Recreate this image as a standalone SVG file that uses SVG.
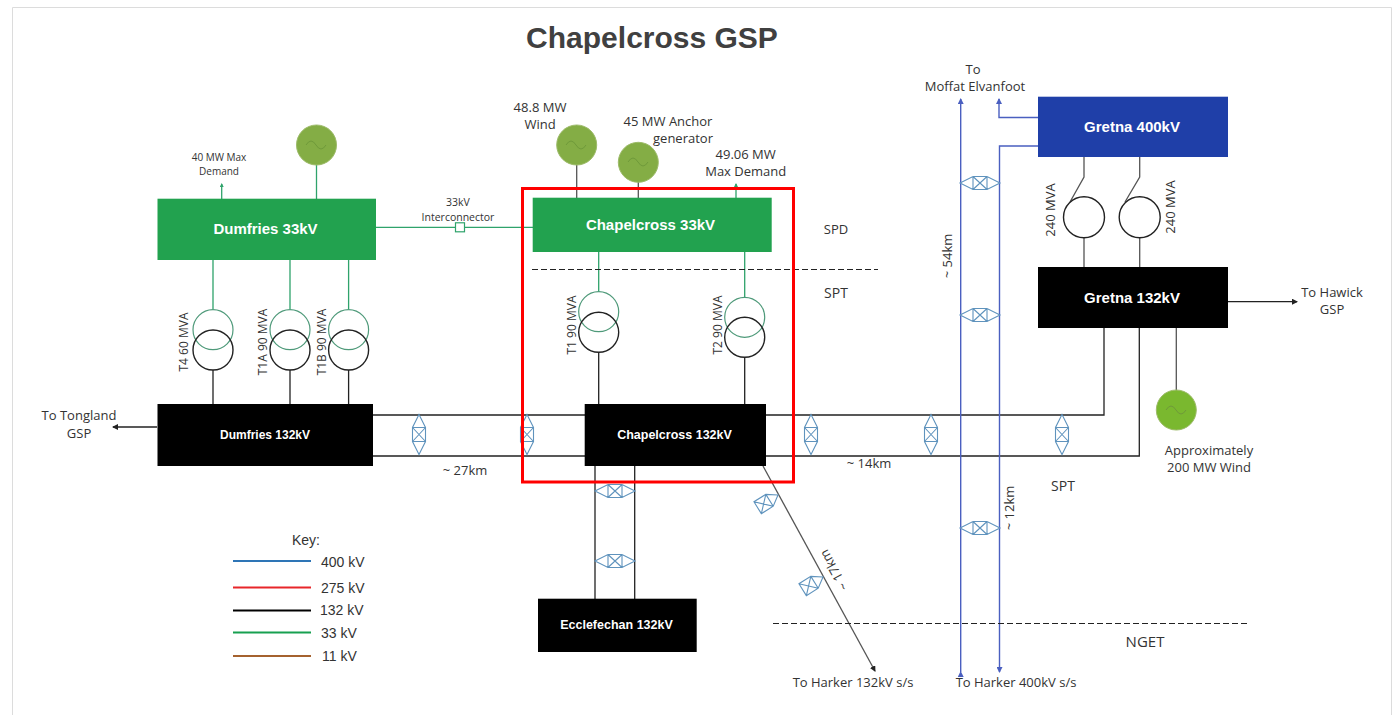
<svg xmlns="http://www.w3.org/2000/svg" width="1398" height="715" viewBox="0 0 1398 715">
<style>
.t{font-family:"Open Sans","Liberation Sans",sans-serif;font-size:13px;fill:#333;text-anchor:middle}
.s{font-size:10px}
.m{font-size:10.500px}
.r{font-size:12px}
.l{font-size:14px}
.k{font-family:"Liberation Sans",sans-serif;font-size:14px;fill:#333}
.b{font-family:"Liberation Sans",sans-serif;font-weight:bold;fill:#fff;text-anchor:middle;font-size:15px}
.b2{font-size:12.500px}
.g{stroke:#2fa36b;stroke-width:1.3;fill:none}
.n{stroke:#222;stroke-width:1.3;fill:none}
.o{stroke:#555;stroke-width:1.3;fill:none}
.h{stroke:#4a5fc0;stroke-width:1.4;fill:none}
.d{stroke:#222;stroke-width:1.1;stroke-dasharray:6 3;fill:none}
.cg{fill:none;stroke:#4f9a7a;stroke-width:1.2}
.cb{fill:none;stroke:#222;stroke-width:1.4}
.gen{stroke:#9dbb6a;stroke-width:1}
.w{fill:none;stroke:#6f9a3a;stroke-width:1}
.tw{fill:none;stroke:#5f93bd;stroke-width:1.1}
</style>
<defs>
<g id="tower"><path class="tw" d="M0-20L6.500-7V7L0 20L-6.500 7V-7ZM-6.500-7H6.500V7H-6.500ZM-6.500-7L6.500 7M6.500-7L-6.500 7"/></g>
<g id="half"><path class="tw" d="M0 0L-10-7H-24V7H-10ZM-10-7V7M-10-7L-24 7M-24-7L-10 7"/></g>
<marker id="a" markerWidth="6" markerHeight="6" refX="5" refY="3" orient="auto" markerUnits="userSpaceOnUse"><path d="M0 0L6 3L0 6Z" fill="#222"/></marker>
<marker id="ab" markerWidth="6" markerHeight="6" refX="5" refY="3" orient="auto" markerUnits="userSpaceOnUse"><path d="M0 0L6 3L0 6Z" fill="#4a5fc0"/></marker>
<marker id="ag" markerWidth="4" markerHeight="4" refX="3" refY="2" orient="auto" markerUnits="userSpaceOnUse"><path d="M0 0L4 2L0 4Z" fill="#2fa36b"/></marker>
</defs>
<rect width="1398" height="715" fill="#fff"/>
<path d="M12.500 715V7.500H1391.500V715" fill="none" stroke="#dcdcdc" stroke-width="1"/>
<text x="652" y="48" font-family="'Liberation Sans',sans-serif" font-weight="bold" font-size="30" fill="#404040" text-anchor="middle">Chapelcross GSP</text>

<g id="connectors">
<path class="g" d="M316.500 165V199"/>
<path class="g" d="M221.700 199V184" marker-end="url(#ag)"/>
<path class="g" d="M376 227.300H533M213 260V309M290 260V309M348.600 260V309"/>
<path class="n" d="M213 370V404M290 370V404M348.600 370V404"/>
<path class="n" d="M157 427H113" marker-end="url(#a)"/>
<path class="o" d="M576.700 165V198M638.300 182V198"/>
<path class="g" d="M736 198V184" marker-end="url(#ag)"/>
<path class="g" d="M598.700 252V291.500M744.700 252V297"/>
<path class="n" d="M598.700 352.500V404M744.700 357.500V404"/>
<path class="n" d="M373 415H585M373 456H585M766 415H1104V328M766 456H1139.300V328"/>
<path class="n" d="M595 466V599M634.700 466V599"/>
<path class="o" d="M763 466L875 671" marker-end="url(#a)"/>
<path class="h" d="M960.700 672V99" marker-start="url(#ab)" marker-end="url(#ab)"/>
<path class="h" d="M1038 117.500H999V99" marker-end="url(#ab)"/>
<path class="h" d="M1038 146H999.500V672" marker-end="url(#ab)"/>
<path class="o" d="M1084 157V177L1070 202M1139.700 157V177L1125 202M1084 238V267M1139.700 238V267"/>
<path class="n" d="M1228 301.700H1297" marker-end="url(#a)"/>
<path class="o" d="M1176.300 328V390"/>
</g>

<g id="dividers">
<path class="d" d="M532 269.500H878"/>
<path class="d" d="M773 623.500H1247"/>
</g>

<g id="towers">
<use href="#tower" x="419" y="434.500"/>
<use href="#tower" x="527" y="434.500"/>
<use href="#tower" x="811" y="434.500"/>
<use href="#tower" x="931" y="434.500"/>
<use href="#tower" x="1062" y="434.500"/>
<use href="#tower" transform="translate(615 491) rotate(90)"/>
<use href="#tower" transform="translate(615 561) rotate(90)"/>
<use href="#tower" transform="translate(980 183) rotate(90)"/>
<use href="#tower" transform="translate(980 315) rotate(90)"/>
<use href="#tower" transform="translate(980 528) rotate(90)"/>
<use href="#half" transform="translate(778 495) rotate(-32)"/>
<use href="#half" transform="translate(823 577) rotate(-32)"/>
</g>

<g id="interconnector-switch"><rect x="455.500" y="222.800" width="9" height="9" fill="#fff" stroke="#2fa36b" stroke-width="1.2"/></g>

<g id="box-dumfries-33"><rect x="157.500" y="198.700" width="218.500" height="61.300" fill="#22a24f"/><text class="b" x="265.500" y="234">Dumfries 33kV</text></g>
<g id="box-dumfries-132"><rect x="157.500" y="404" width="215.500" height="62" fill="#000"/><text class="b" style="font-size:12px" x="265" y="439">Dumfries 132kV</text></g>
<g id="box-chapelcross-33"><rect x="532.700" y="197.700" width="239" height="54.300" fill="#22a24f"/><text class="b" x="650.500" y="230">Chapelcross 33kV</text></g>
<g id="box-chapelcross-132"><rect x="584.700" y="404" width="181.300" height="62" fill="#000"/><text class="b b2" x="674.500" y="439">Chapelcross 132kV</text></g>
<g id="box-ecclefechan-132"><rect x="538" y="598.700" width="158.700" height="53.300" fill="#000"/><text class="b b2" x="616.500" y="629">Ecclefechan 132kV</text></g>
<g id="box-gretna-400"><rect x="1038" y="96.700" width="190" height="60.300" fill="#1f3fa8"/><text class="b" x="1132" y="132">Gretna 400kV</text></g>
<g id="box-gretna-132"><rect x="1038" y="267" width="190" height="61" fill="#000"/><text class="b" x="1132" y="302.500">Gretna 132kV</text></g>

<g id="gen-dumfries"><circle class="gen" cx="316.500" cy="145" r="20" fill="#84ad45"/><path class="w" d="M306 145q5-8 10 0t10 0"/></g>
<g id="gen-wind"><circle class="gen" cx="576.700" cy="145" r="20" fill="#84ad45"/><path class="w" d="M566 145q5-8 10 0t10 0"/></g>
<g id="gen-anchor"><circle class="gen" cx="638.300" cy="162.300" r="20" fill="#84ad45"/><path class="w" d="M628 162q5-8 10 0t10 0"/></g>
<g id="gen-gretna"><circle class="gen" cx="1176.300" cy="410" r="20" fill="#7ab82f"/><path class="w" d="M1166 410q5-8 10 0t10 0"/></g>

<g id="tx-t4"><circle class="cg" cx="213" cy="329.700" r="20"/><circle class="cb" cx="213" cy="350" r="20"/></g>
<g id="tx-t1a"><circle class="cg" cx="290" cy="329.700" r="20"/><circle class="cb" cx="290" cy="350" r="20"/></g>
<g id="tx-t1b"><circle class="cg" cx="348.600" cy="329.700" r="20"/><circle class="cb" cx="348.600" cy="350" r="20"/></g>
<g id="tx-t1"><circle class="cg" cx="598.700" cy="311.700" r="20"/><circle class="cb" cx="598.700" cy="332.300" r="20"/></g>
<g id="tx-t2"><circle class="cg" cx="744.700" cy="317.300" r="20"/><circle class="cb" cx="744.700" cy="337.300" r="20"/></g>
<g id="tx-gretna-1"><circle class="cb" cx="1084" cy="217.300" r="20.500"/></g>
<g id="tx-gretna-2"><circle class="cb" cx="1139.700" cy="217.300" r="20.500"/></g>

<g id="labels">
<text class="t s" x="219" y="161">40 MW Max</text><text class="t s" x="219" y="175">Demand</text>
<text class="t m" x="458" y="205.500">33kV</text><text class="t m" x="458" y="221">Interconnector</text>
<text class="t" x="540" y="111.500">48.8 MW</text><text class="t" x="540" y="128.500">Wind</text>
<text class="t" x="668" y="126">45 MW Anchor</text><text class="t" x="683" y="143">generator</text>
<text class="t" x="745.700" y="158.500">49.06 MW</text><text class="t" x="745.700" y="175.500">Max Demand</text>
<text class="t" x="836" y="234">SPD</text><text class="t l" x="836" y="298">SPT</text>
<text class="t" x="973" y="74">To</text><text class="t" x="975" y="91">Moffat Elvanfoot</text>
<text class="t" x="1332" y="297">To Hawick</text><text class="t" x="1332" y="314">GSP</text>
<text class="t" x="1209" y="455">Approximately</text><text class="t" x="1209" y="472">200 MW Wind</text>
<text class="t l" x="1063" y="491">SPT</text>
<text class="t" x="79" y="420">To Tongland</text><text class="t" x="79" y="438">GSP</text>
<text class="t" x="465" y="475">~ 27km</text><text class="t" x="869" y="468">~ 14km</text>
<text class="t" x="853" y="687">To Harker 132kV s/s</text><text class="t" x="1016" y="687">To Harker 400kV s/s</text>
<text class="t" style="font-size:15px" x="1145" y="647">NGET</text>
<text class="t r" transform="translate(188 342) rotate(-90)">T4 60 MVA</text>
<text class="t r" transform="translate(267 342) rotate(-90)">T1A 90 MVA</text>
<text class="t r" transform="translate(326 342) rotate(-90)">T1B 90 MVA</text>
<text class="t r" transform="translate(576 325) rotate(-90)">T1 90 MVA</text>
<text class="t r" transform="translate(722 325) rotate(-90)">T2 90 MVA</text>
<text class="t" transform="translate(1055 210) rotate(-90)">240 MVA</text>
<text class="t" transform="translate(1175 207) rotate(-90)">240 MVA</text>
<text class="t" transform="translate(952 256) rotate(-90)">~ 54km</text>
<text class="t" transform="translate(1014 508) rotate(-90)">~ 12km</text>
<text class="t" transform="translate(838 568) rotate(241)">~ 17km</text>
</g>

<g id="key">
<text class="k" x="306" y="545" text-anchor="middle">Key:</text>
<path d="M233 561H311" stroke="#2e75b6" stroke-width="1.800"/><text class="k" x="321" y="567">400 kV</text>
<path d="M233 587.500H311" stroke="#e8262a" stroke-width="1.800"/><text class="k" x="321" y="593">275 kV</text>
<path d="M233 610.500H311" stroke="#000" stroke-width="1.800"/><text class="k" x="320" y="615">132 kV</text>
<path d="M233 632.500H311" stroke="#17a050" stroke-width="1.800"/><text class="k" x="321" y="638">33 kV</text>
<path d="M233 656H311" stroke="#a5622f" stroke-width="1.800"/><text class="k" x="322" y="661">11 kV</text>
</g>

<g id="highlight"><rect x="522.500" y="188.500" width="271" height="293.500" fill="none" stroke="#f00" stroke-width="3"/></g>
</svg>
